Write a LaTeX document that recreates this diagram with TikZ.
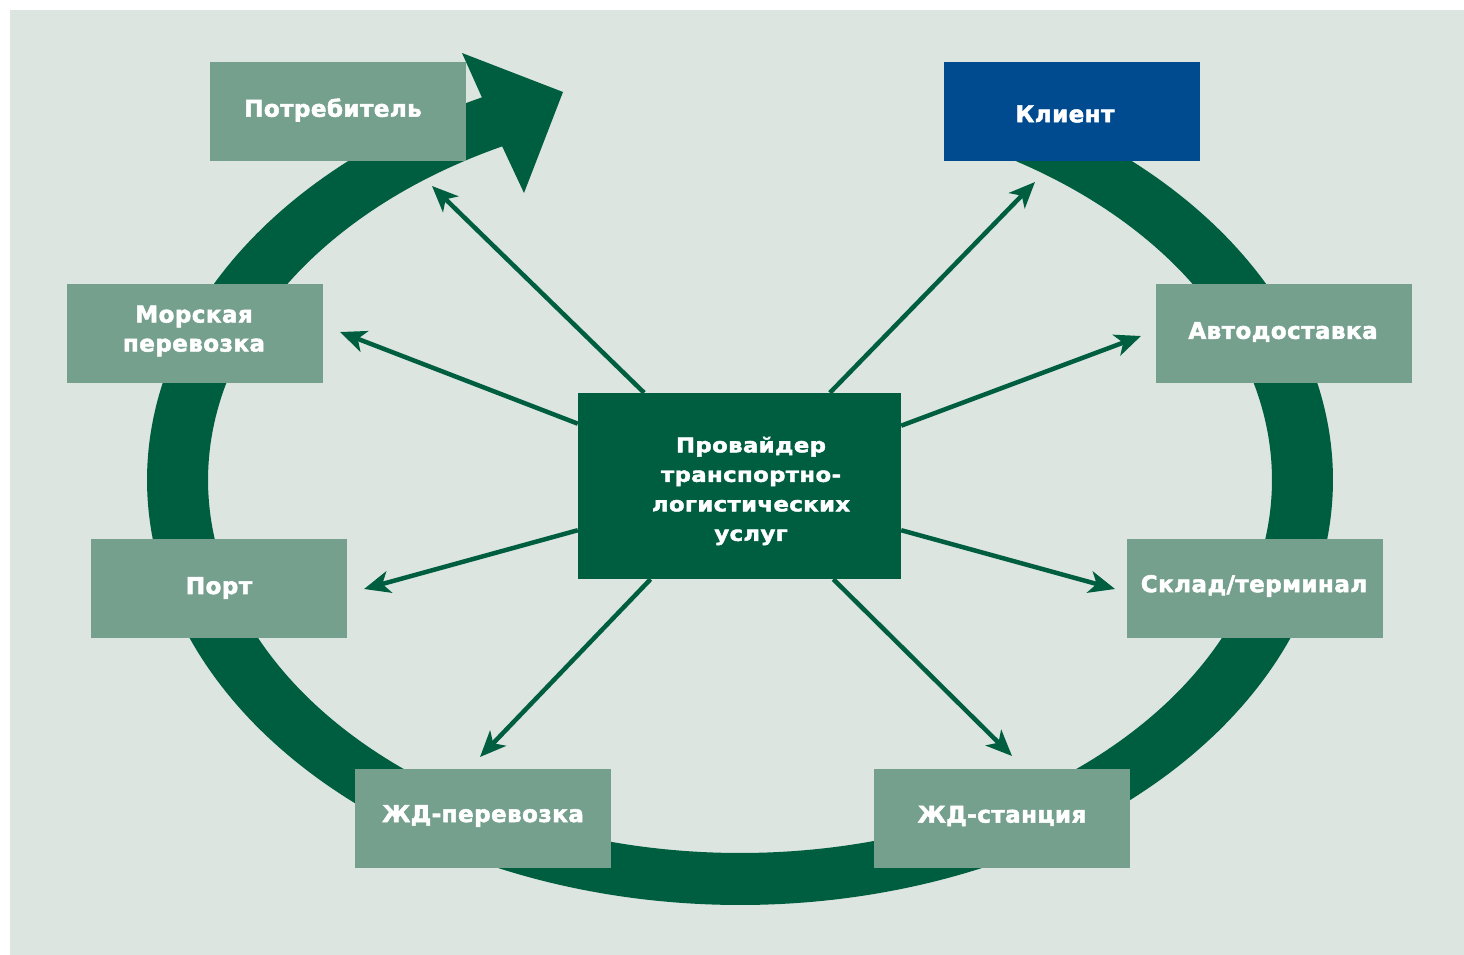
\documentclass[tikz,border=0pt]{standalone}
\usepackage{fontspec}
\newfontfamily\lblfont{DejaVu Sans Bold}[FakeBold=2.2, LetterSpace=2]
\newfontfamily\ctrfont{DejaVu Sans Bold}[FakeStretch=1.12, FakeBold=2.2, LetterSpace=2]
\usetikzlibrary{arrows.meta}
\definecolor{bgc}{HTML}{DCE5E0}
\definecolor{lightbox}{HTML}{76A08E}
\definecolor{dkgreen}{HTML}{005E40}
\definecolor{clientblue}{HTML}{004A8F}
\tikzset{
  lbox/.style={fill=lightbox, draw=none, minimum width=256pt, minimum height=99pt, inner sep=0pt},
  bluebox/.style={lbox, fill=clientblue},
  cbox/.style={fill=dkgreen, draw=none, minimum width=323pt, minimum height=186pt, inner sep=0pt},
  ltext/.style={text=white, inner sep=0pt, align=center, font=\lblfont\fontsize{23}{29}\selectfont},
  ctext/.style={text=white, inner sep=0pt, align=center, font=\ctrfont\fontsize{20.3}{29.5}\selectfont},
  conn/.style={draw=dkgreen, line width=4.5pt, -{Stealth[length=26pt,width=22pt,inset=7pt]}}
}
\begin{document}
\begin{tikzpicture}[x=1pt,y=-1pt]
\useasboundingbox (0,0) rectangle (1464,955);
\fill[bgc] (10,10) rectangle (1464,955);
% ring with arrow head
\fill[dkgreen] plot[domain=-65:244.2, samples=300] ({740+593*cos(\x)},{480+425*sin(\x)})
  -- (462,53) -- (563,92) -- (524,193) -- (502,146)
  -- plot[domain=243.4:-60, samples=300] ({740+532*cos(\x)},{480+373*sin(\x)}) -- cycle;
% center box
\node[cbox] (c) at (739.5,486) {};
% arrow end points
\coordinate (p1) at (432,186);
\coordinate (p2) at (1035,182);
\coordinate (p3) at (340,332);
\coordinate (p4) at (1141,336);
\coordinate (p5) at (364,589);
\coordinate (p6) at (1115,589);
\coordinate (p7) at (480,757);
\coordinate (p8) at (1012,756);
\foreach \p in {p1,p2,p3,p4,p5,p6,p7,p8} \draw[conn] (c) -- (\p);
% boxes
\node[lbox] (potr) at (338,111.5) {};
\node[bluebox] (klient) at (1072,111.5) {};
\node[lbox] (morsk) at (195,333.5) {};
\node[lbox] (avto) at (1284,333.5) {};
\node[lbox] (port) at (219,588.5) {};
\node[lbox] (sklad) at (1255,588.5) {};
\node[lbox] (zhdp) at (483,818.5) {};
\node[lbox] (zhds) at (1002,818.5) {};
% texts
\node[ltext] (tpotr) at (333,110) {Потребитель};
\node[ltext] (tklient) at (1065,114) {Клиент};
\node[ltext] (tmorsk) at (194,331) {Морская\\перевозка};
\node[ltext] (tavto) at (1283,332) {Автодоставка};
\node[ltext] (tport) at (219,588) {Порт};
\node[ltext] (tsklad) at (1254,586) {Склад/терминал};
\node[ltext] (tzhdp) at (483,816) {ЖД-перевозка};
\node[ltext] (tzhds) at (1002,816) {ЖД-станция};
\node[ctext] (tc) at (751,491) {Провайдер\\транспортно-\\логистических\\услуг};
\end{tikzpicture}
\end{document}
